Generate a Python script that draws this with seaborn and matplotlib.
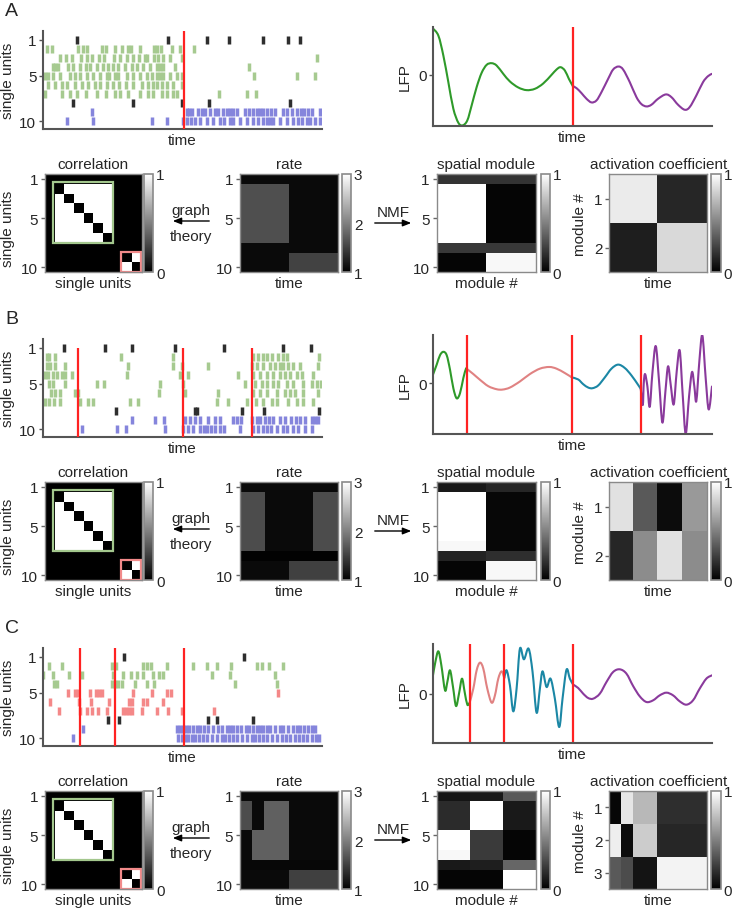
import matplotlib
matplotlib.use("Agg")
import matplotlib.pyplot as plt
from matplotlib.patches import Rectangle, FancyArrowPatch, PathPatch
from matplotlib.path import Path
import numpy as np
import seaborn as sns

# ---------------------------------------------------------------- data
units = [1, 2, 3, 4, 5, 6, 7, 8, 9, 10]

# spike times (arbitrary time units, 0-835), one list per single unit
spikes_a = [
    [102, 375, 490, 557, 660, 733, 770],
    [10, 25, 105, 120, 132, 175, 188, 215, 235, 255, 262, 290, 332, 342, 352, 385, 410, 452],
    [50, 67, 85, 113, 132, 145, 168, 183, 213, 230, 250, 270, 288, 305, 310, 332, 345, 360, 380, 415, 822],
    [28, 35, 45, 75, 90, 110, 128, 140, 160, 180, 195, 210, 225, 245, 265, 282, 300, 320, 340, 350, 360, 395, 618],
    [5, 15, 30, 50, 80, 95, 110, 130, 150, 170, 190, 198, 215, 225, 250, 268, 290, 310, 325, 340, 350, 360, 380, 400, 415, 632, 760, 815],
    [15, 35, 55, 70, 95, 115, 135, 155, 170, 190, 208, 228, 248, 270, 295, 315, 330, 340, 355, 370, 390, 415],
    [5, 55, 80, 100, 128, 160, 188, 215, 230, 255, 290, 315, 330, 355, 372, 390, 400, 528, 612, 638],
    [90, 270, 415, 498, 740],
    [145, 430, 437, 445, 465, 475, 485, 500, 515, 525, 540, 550, 560, 570, 582, 605, 618, 628, 640, 650, 660, 670, 682, 695, 720, 730, 745, 760, 773, 782, 795, 805, 830],
    [72, 150, 325, 370, 418, 430, 442, 455, 470, 490, 510, 530, 543, 560, 570, 590, 610, 630, 645, 660, 670, 680, 690, 710, 730, 750, 765, 775, 790, 800, 815, 830],
]
spikes_b = [
    [62, 185, 265, 395, 542, 720, 802],
    [10, 18, 35, 232, 390, 630, 645, 660, 670, 685, 705, 718, 730, 828],
    [10, 20, 35, 65, 255, 390, 415, 495, 627, 640, 660, 680, 695, 710, 720, 735, 750, 770, 825],
    [5, 15, 28, 40, 55, 65, 85, 250, 410, 435, 585, 630, 650, 670, 690, 710, 725, 740, 760, 775, 810],
    [18, 30, 65, 160, 182, 350, 420, 605, 635, 655, 670, 690, 705, 730, 750, 780, 805, 820, 832],
    [22, 35, 50, 95, 105, 348, 425, 525, 630, 650, 670, 700, 725, 740, 755, 780, 825],
    [5, 18, 32, 50, 110, 135, 148, 260, 285, 520, 555, 610, 638, 660, 685, 700, 735, 760, 780, 810],
    [217, 455, 462, 595, 663, 827],
    [265, 335, 362, 425, 440, 455, 470, 495, 515, 530, 568, 582, 592, 627, 640, 650, 665, 678, 690, 710, 725, 742, 757, 770, 785, 805, 815, 825],
    [115, 220, 248, 365, 420, 435, 450, 470, 482, 490, 502, 515, 530, 542, 590, 630, 645, 658, 670, 682, 700, 718, 732, 750, 765, 785, 805],
]
spikes_c = [
    [243, 603],
    [18, 55, 205, 218, 298, 310, 322, 370, 448, 490, 522, 563, 640, 655, 678, 720],
    [0, 30, 77, 115, 210, 238, 263, 282, 298, 328, 348, 360, 505, 560, 695],
    [33, 40, 205, 215, 225, 235, 275, 310, 333, 575, 700],
    [73, 95, 105, 140, 158, 168, 175, 270, 325, 370, 382, 705],
    [20, 108, 142, 198, 258, 265, 300, 310, 360],
    [48, 110, 132, 145, 165, 192, 238, 248, 258, 265, 295, 340, 375, 415, 512],
    [193, 228, 495, 522, 630],
    [118, 400, 410, 420, 428, 438, 448, 460, 470, 482, 495, 508, 525, 535, 550, 560, 570, 582, 592, 608, 618, 630, 642, 650, 660, 670, 680, 695, 710, 720, 735, 750, 760, 770, 782, 795, 805, 815],
    [88, 405, 415, 425, 435, 445, 455, 468, 480, 490, 505, 520, 535, 545, 558, 568, 582, 595, 610, 625, 635, 648, 660, 672, 685, 700, 715, 728, 740, 755, 768, 780, 792, 805, 818, 828],
]

# assembly membership of each unit (none / green / blue / red)
group_ab = ["none", "green", "green", "green", "green", "green", "green", "none", "blue", "blue"]
group_c = ["none", "green", "green", "green", "red", "red", "red", "none", "blue", "blue"]

# network state switches (same time units)
switch_a = [421]
switch_b = [103, 418, 625]
switch_c = [111, 215, 422]

# LFP traces (arbitrary units), state of each segment between switches
lfp_a_t = [0, 17, 32, 47, 62, 77, 90, 104, 117, 132, 147, 162, 177, 192, 212, 232, 257, 282, 307, 332,
           357, 372, 384, 397, 409, 421, 432, 447, 462, 477, 492, 507, 527, 542, 558, 572, 592, 612, 627,
           642, 657, 677, 700, 717, 737, 757, 772, 792, 812, 827, 839]
lfp_a_v = [140, 118, 58, -22, -102, -144, -152, -137, -92, -37, 6, 30, 35, 28, 3, -20, -38, -46, -42, -26,
           0, 16, 23, 13, -12, -34, -40, -55, -72, -83, -77, -52, -12, 16, 25, 16, -22, -67, -88,
           -95, -90, -72, -59, -67, -90, -105, -97, -62, -22, -4, 3]
lfp_a_state = ["green", "purple"]

lfp_b_t = [0, 12, 22, 32, 42, 52, 62, 72, 82, 92, 100, 103, 122, 142, 167, 192, 210, 232, 262, 292, 322,
           350, 372, 397, 418, 437, 452, 467, 480, 497, 517, 537, 557, 577, 597, 617, 625, 631, 634, 638,
           645, 652, 660, 670, 680, 690, 699, 707, 715, 724, 733, 742, 751, 760, 770, 779, 786, 792, 801,
           810, 820, 829, 839]
lfp_b_v = [23, 55, 83, 93, 83, 40, -15, -45, -30, 15, 43, 42, 27, 10, -9, -18, -19, -13, 5, 27, 43,
           48, 43, 30, 17, 11, -3, -13, -15, -7, 17, 43, 55, 45, 23, -5, -17, -65, 0, 27,
           -10, -70, 30, 110, 5, -117, -25, 50, -5, -63, 35, 97, -35, -150, -40, 33, -10, -53, 65,
           142, 15, -78, -10]
lfp_b_state = ["green", "salmon", "teal", "purple"]

lfp_c_t = [0, 8, 17, 26, 37, 44, 52, 61, 70, 79, 88, 96, 104, 111, 122, 132, 142, 152, 164, 177, 187,
           197, 207, 215, 222, 232, 242, 252, 262, 274, 288, 300, 312, 322, 330, 342, 354, 367, 380,
           390, 402, 412, 422, 437, 452, 467, 482, 502, 522, 542, 562, 582, 602, 622, 642, 662, 682,
           702, 722, 742, 762, 782, 802, 822, 839]
lfp_c_v = [50, 95, 127, 85, 10, 35, 70, 20, -37, 0, 45, 5, -33, -27, 15, 70, 93, 75, 15, -27, -5,
           45, 67, 47, 70, 25, -53, 15, 135, 103, 135, 65, -57, 15, 67, 20, 45, -15, -100,
           -15, 72, 45, 27, 17, 0, -13, -15, 0, 35, 65, 73, 60, 23, -8, -25, -20, -5,
           3, -5, -23, -33, -20, 15, 45, 55]
lfp_c_state = ["green", "salmon", "teal", "purple"]

# correlation: assemblies found by graph theory
corr_groups = [[2, 3, 4, 5, 6, 7], [9, 10]]

# firing rate: piecewise levels (rows = units, columns = time segments)
rate_a_edges = [0, 0.495, 1.0]
rate_a_levels = [[1.08, 1.08]] + [[1.62, 1.08]] * 6 + [[1.08, 1.08]] + [[1.08, 1.52]] * 2
rate_b_edges = [0, 0.248, 0.495, 0.746, 1.0]
rate_b_levels = ([[1.08, 1.08, 1.08, 1.08]] + [[1.6, 1.08, 1.08, 1.6]] * 6 + [[1.02, 1.02, 1.02, 1.02]]
                 + [[1.08, 1.08, 1.5, 1.5]] * 2)
rate_c_edges = [0, 0.125, 0.247, 0.495, 1.0]
rate_c_levels = ([[1.08, 1.08, 1.08, 1.08]] + [[1.6, 1.08, 1.75, 1.08]] * 3 + [[1.08, 1.75, 1.75, 1.08]] * 3
                 + [[1.06, 1.06, 1.06, 1.06]] + [[1.08, 1.08, 1.08, 1.5]] * 2)

# NMF spatial modules (rows = units, columns = modules)
spatial_a = [[0.2, 0.2]] + [[1.0, 0.02]] * 6 + [[0.22, 0.22]] + [[0.02, 0.97]] * 2
spatial_b = [[0.1, 0.15]] + [[1.0, 0.03]] * 5 + [[0.97, 0.03]] + [[0.14, 0.18]] + [[0.02, 0.97]] * 2
spatial_c = ([[0.08, 0.1, 0.35]] + [[0.17, 1.0, 0.1]] * 3 + [[1.0, 0.23, 0.02]] * 2 + [[0.97, 0.23, 0.02]]
             + [[0.1, 0.12, 0.4]] + [[0.02, 0.02, 1.0]] * 2)

# NMF activation coefficients (rows = modules, columns = time segments)
act_a_edges = [0, 0.49, 1.0]
act_a_levels = [[0.92, 0.15], [0.12, 0.85]]
act_b_edges = [0, 0.245, 0.49, 0.745, 1.0]
act_b_levels = [[0.88, 0.35, 0.05, 0.6], [0.15, 0.55, 0.88, 0.55]]
act_c_edges = [0, 0.116, 0.245, 0.483, 1.0]
act_c_levels = [[0.03, 0.9, 0.72, 0.18], [0.93, 0.05, 0.8, 0.15], [0.35, 0.3, 0.08, 0.95]]

# ---------------------------------------------------------------- style
sns.set_style("white")
plt.rcParams["font.family"] = ["Liberation Sans", "DejaVu Sans"]
FS = 11
SPIKE_COLORS = {"none": "#2e2e2e", "green": "#a6ca90", "blue": "#8585dc", "red": "#f48888"}
LFP_COLORS = {"green": "#2f9a2a", "salmon": "#e08282", "teal": "#1b87a5", "purple": "#8a3a9c"}
RED = "#ff2222"
BOX_COLORS = ["#a3c78d", "#f28a8a"]
SPINE = "#555555"

W, H = 739, 912
fig = plt.figure(figsize=(W / 100, H / 100), dpi=100)


def box(x0, y0, x1, y1, dy):
    return [x0 / W, 1 - (y1 + dy) / H, (x1 - x0) / W, (y1 - y0) / H]


def piecewise(levels, edges, ncol=200):
    centers = (np.arange(ncol) + 0.5) / ncol
    idx = np.searchsorted(edges, centers) - 1
    return np.asarray(levels)[:, idx]


def smooth_path(x, y):
    # Catmull-Rom curve through the read points, drawn as cubic Bezier segments
    p = np.column_stack([x, y]).astype(float)
    ext = np.vstack([p[0], p, p[-1]])
    verts = [p[0]]
    codes = [Path.MOVETO]
    for i in range(len(p) - 1):
        p0, p1, p2, p3 = ext[i], ext[i + 1], ext[i + 2], ext[i + 3]
        verts += [p1 + (p2 - p0) / 6, p2 - (p3 - p1) / 6, p2]
        codes += [Path.CURVE4] * 3
    return Path(verts, codes)


def draw_raster(ax, spikes, groups, switches, line_top):
    ax.eventplot(spikes, lineoffsets=units, linelengths=0.85, linewidths=2.5,
                 colors=[SPIKE_COLORS[g] for g in groups])
    ax.vlines(switches, line_top, 10.85, color=RED, lw=1.6, zorder=3)
    ax.set_xlim(0, 835)
    ax.set_ylim(10.85, 0)
    ax.set_xticks([])
    ax.set_yticks([1, 5, 10])
    ax.tick_params(axis="y", length=3, width=1, color=SPINE, labelsize=FS, pad=2, left=True)
    sns.despine(ax=ax)
    for s in ("left", "bottom"):
        ax.spines[s].set_color(SPINE)
        ax.spines[s].set_linewidth(1.5)
    ax.set_xlabel("time", fontsize=FS, labelpad=3)
    ax.set_ylabel("single units", fontsize=FS)
    ax.yaxis.set_label_coords(-(43.3 - 15) / 278.4, 0.5)


def draw_lfp(ax, t, v, switches, states, ylim):
    t = np.asarray(t)
    v = np.asarray(v)
    edges = [0] + switches + [839]
    for k, st in enumerate(states):
        m = (t >= edges[k]) & (t <= edges[k + 1])
        ax.add_patch(PathPatch(smooth_path(t[m], v[m]), fill=False, ec=LFP_COLORS[st], lw=1.5,
                               capstyle="round", joinstyle="round"))
    for s in switches:
        ax.axvline(s, color=RED, lw=1.6)
    ax.set_xlim(0, 839)
    ax.set_ylim(*ylim)
    ax.set_xticks([])
    ax.set_yticks([0])
    ax.tick_params(axis="y", length=3, width=1, color=SPINE, labelsize=FS, pad=1, left=True)
    sns.despine(ax=ax)
    for s in ("left", "bottom"):
        ax.spines[s].set_color(SPINE)
        ax.spines[s].set_linewidth(1.5)
    ax.set_xlabel("time", fontsize=FS, labelpad=3)
    ax.set_ylabel("LFP", fontsize=FS)
    ax.yaxis.set_label_coords(-(432.7 - 412) / 279.3, 0.5)


def draw_heat(ax, cax, mat, vmin, vmax, cticks, title, xlabel, yticks, ylabels):
    sns.heatmap(np.asarray(mat, dtype=float), ax=ax, cbar_ax=cax, cmap="gray", vmin=vmin, vmax=vmax,
                xticklabels=False, yticklabels=False)
    ax.set_title(title, fontsize=FS, pad=4)
    ax.set_xlabel(xlabel, fontsize=FS, labelpad=3)
    ax.set_yticks(yticks)
    ax.set_yticklabels(ylabels, rotation=0, fontsize=FS)
    ax.tick_params(axis="y", length=3, width=1, color="#666666", pad=2, left=True)
    for sp in ax.spines.values():
        sp.set_visible(True)
        sp.set_color("#8a8a8a")
        sp.set_linewidth(1)
    cbar = ax.collections[0].colorbar
    cbar.set_ticks(cticks)
    cbar.outline.set_edgecolor("#8a8a8a")
    cbar.outline.set_linewidth(1.2)
    cax.tick_params(length=0, pad=2, labelsize=FS)


panels = [
    ("A", 0, spikes_a, group_ab, switch_a, 0.0, lfp_a_t, lfp_a_v, lfp_a_state, (-153, 143),
     rate_a_levels, rate_a_edges, spatial_a, act_a_levels, act_a_edges),
    ("B", 308, spikes_b, group_ab, switch_b, 1.0, lfp_b_t, lfp_b_v, lfp_b_state, (-150, 142),
     rate_b_levels, rate_b_edges, spatial_b, act_b_levels, act_b_edges),
    ("C", 617, spikes_c, group_c, switch_c, 0.0, lfp_c_t, lfp_c_v, lfp_c_state, (-147, 148),
     rate_c_levels, rate_c_edges, spatial_c, act_c_levels, act_c_edges),
]

for (letter, dy, spikes, groups, switches, line_top, lt, lv, lstate, lylim,
     rlev, redg, spatial, alev, aedg) in panels:
    fig.text(5 / W, 1 - (12 + dy) / H, letter, fontsize=14, va="center", ha="left")

    ax = fig.add_axes(box(43.3, 31.6, 321.7, 130, dy))
    draw_raster(ax, spikes, groups, switches, line_top)

    ax = fig.add_axes(box(432.7, 28.3, 712, 126.7, dy))
    draw_lfp(ax, lt, lv, switches, lstate, lylim)

    # correlation
    corr = np.zeros((10, 10))
    for grp in corr_groups:
        for i in grp:
            for j in grp:
                if i != j:
                    corr[i - 1, j - 1] = 1
    ax = fig.add_axes(box(45, 175, 141.7, 273.3, dy))
    cax = fig.add_axes(box(144, 175, 153.3, 273.3, dy))
    draw_heat(ax, cax, corr, 0, 1, [0, 1], "correlation", "single units",
              [0.5, 4.5, 9.5], ["1", "5", "10"])
    ax.set_ylabel("single units", fontsize=FS)
    ax.yaxis.set_label_coords(-(45 - 15) / 96.7, 0.45)
    ax.add_patch(Rectangle((0.85, 0.85), 6.15, 6.15, fill=False, ec=BOX_COLORS[0], lw=1.6, clip_on=False))
    ax.add_patch(Rectangle((7.9, 7.9), 2.05, 2.05, fill=False, ec=BOX_COLORS[1], lw=1.6, clip_on=False))

    # rate
    ax = fig.add_axes(box(240, 175, 338.3, 273.3, dy))
    cax = fig.add_axes(box(341.7, 175, 351, 273.3, dy))
    draw_heat(ax, cax, piecewise(rlev, redg), 1, 3, [1, 2, 3], "rate", "time",
              [0.5, 4.5, 9.5], ["1", "5", "10"])

    # spatial module
    ax = fig.add_axes(box(436.7, 175, 535.7, 273.3, dy))
    cax = fig.add_axes(box(540.7, 175, 550, 273.3, dy))
    draw_heat(ax, cax, spatial, 0, 1, [0, 1], "spatial module", "module #",
              [0.5, 4.5, 9.5], ["1", "5", "10"])

    # activation coefficient
    nmod = len(alev)
    ax = fig.add_axes(box(609.3, 175, 707.3, 273.3, dy))
    cax = fig.add_axes(box(711, 175, 721, 273.3, dy))
    draw_heat(ax, cax, piecewise(alev, aedg), 0, 1, [0, 1], "activation coefficient", "time",
              [m + 0.5 for m in range(nmod)], [str(m + 1) for m in range(nmod)])
    ax.set_ylabel("module #", fontsize=FS)
    ax.yaxis.set_label_coords(-(609.3 - 587) / 98, 0.5)

    # arrows between the heatmaps
    fig.text(190.7 / W, 1 - (210.7 + dy) / H, "graph", fontsize=FS, ha="center", va="center")
    fig.text(190.7 / W, 1 - (237.3 + dy) / H, "theory", fontsize=FS, ha="center", va="center")
    fig.add_artist(FancyArrowPatch((212 / W, 1 - (222 + dy) / H), (170 / W, 1 - (222 + dy) / H),
                                   transform=fig.transFigure, arrowstyle="-|>,head_length=5,head_width=2",
                                   color="black", lw=1))
    fig.text(393.3 / W, 1 - (213.3 + dy) / H, "NMF", fontsize=FS, ha="center", va="center")
    fig.add_artist(FancyArrowPatch((372 / W, 1 - (224 + dy) / H), (414 / W, 1 - (224 + dy) / H),
                                   transform=fig.transFigure, arrowstyle="-|>,head_length=5,head_width=2",
                                   color="black", lw=1))

fig.savefig("out.png", dpi=100, facecolor="white")
